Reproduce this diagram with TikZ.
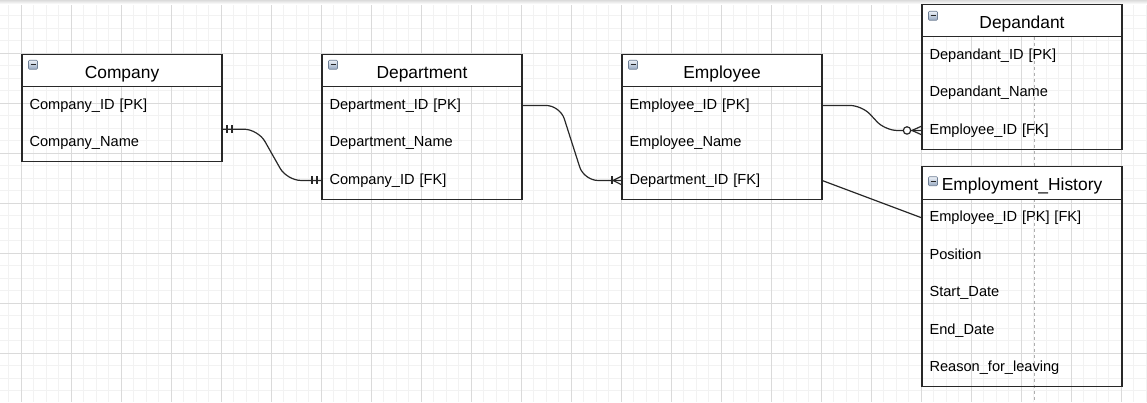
\documentclass[tikz,border=0pt]{standalone}
\usepackage{fontspec}
\setmainfont{Liberation Sans}
\usetikzlibrary{calc}
\definecolor{gridMinor}{RGB}{242,242,242}
\definecolor{gridMajor}{RGB}{218,218,218}
\definecolor{edgeCol}{RGB}{40,40,40}
\definecolor{iconTop}{RGB}{238,242,248}
\definecolor{iconBot}{RGB}{150,168,192}
\definecolor{iconEdge}{RGB}{110,126,148}
\definecolor{breakCol}{RGB}{175,175,175}
\newcommand{\erToggle}[3]{%
  \draw[toggle] ($(#1)+(#2,#3)$) rectangle ++(9,9);
  \draw[minusbar] ($(#1)+(#2+2,#3+4.5)$) -- ++(5,0);}
\begin{document}
\begin{tikzpicture}[x=1pt,y=-1pt,
  gridminor/.style={draw=gridMinor,line width=0.8pt},
  gridmajor/.style={draw=gridMajor,line width=0.8pt},
  outline/.style={draw=edgeCol,line width=1.2pt},
  head/.style={anchor=north west,draw=edgeCol,line width=1.2pt,fill=white,
    minimum width=200pt,minimum height=32.5pt,inner sep=0pt,outer sep=0pt,
    text height=18pt,text depth=2.5pt,font=\fontsize{17.4}{20}\selectfont},
  cell/.style={anchor=north west,minimum width=200pt,minimum height=37.5pt,
    text width=185pt,inner xsep=7.5pt,inner ysep=0pt,outer sep=0pt,align=left,
    text height=10.5pt,text depth=3pt,font=\fontsize{14.6}{17}\selectfont},
  toggle/.style={draw=iconEdge,top color=iconTop,bottom color=iconBot,
    line width=0.6pt,rounded corners=1pt},
  minusbar/.style={draw=black!85,line width=1.3pt},
  link/.style={draw=edgeCol,line width=1.2pt},
  pagebreak/.style={draw=breakCol,line width=0.8pt,dash pattern=on 3pt off 3pt}]
\useasboundingbox (0,0) rectangle (1147,402);
\fill[white] (0,0) rectangle (1147,402);

% background grid
\foreach \i in {0,...,91} \draw[gridminor] ({8.5+12.5*\i},0) -- ({8.5+12.5*\i},402);
\foreach \i in {0,...,31} \draw[gridminor] (0,{3+12.5*\i}) -- (1147,{3+12.5*\i});
\foreach \i in {0,...,22} \draw[gridmajor] ({21+50*\i},0) -- ({21+50*\i},402);
\foreach \i in {0,...,7} \draw[gridmajor] (0,{3+50*\i}) -- (1147,{3+50*\i});
\shade[top color=black!14,bottom color=white] (0,0) rectangle (1147,4);

% page break marker
\draw[pagebreak] (1034,36.7) -- (1034,402);

% Company
\node[head] (coH) at (22,54.2) {Company};
\node[cell] (co1) at (coH.south west) {Company\_ID [PK]};
\node[cell] (co2) at (co1.south west) {Company\_Name};
\draw[outline] (coH.north west) rectangle (co2.south east);
\erToggle{coH.north west}{6.5}{6}

% Department
\node[head] (deH) at (322,54.2) {Department};
\node[cell] (de1) at (deH.south west) {Department\_ID [PK]};
\node[cell] (de2) at (de1.south west) {Department\_Name};
\node[cell] (de3) at (de2.south west) {Company\_ID [FK]};
\draw[outline] (deH.north west) rectangle (de3.south east);
\erToggle{deH.north west}{6.5}{6}

% Employee
\node[head] (emH) at (622,54.2) {Employee};
\node[cell] (em1) at (emH.south west) {Employee\_ID [PK]};
\node[cell] (em2) at (em1.south west) {Employee\_Name};
\node[cell] (em3) at (em2.south west) {Department\_ID [FK]};
\draw[outline] (emH.north west) rectangle (em3.south east);
\erToggle{emH.north west}{6.5}{6}

% Depandant
\node[head] (dpH) at (922,4.2) {Depandant};
\node[cell] (dp1) at (dpH.south west) {Depandant\_ID [PK]};
\node[cell] (dp2) at (dp1.south west) {Depandant\_Name};
\node[cell] (dp3) at (dp2.south west) {Employee\_ID [FK]};
\draw[outline] (dpH.north west) rectangle (dp3.south east);
\erToggle{dpH.north west}{6.5}{7}

% Employment_History
\node[head] (ehH) at (922,166.7) {Employment\_History};
\node[cell] (eh1) at (ehH.south west) {Employee\_ID [PK] [FK]};
\node[cell] (eh2) at (eh1.south west) {Position};
\node[cell] (eh3) at (eh2.south west) {Start\_Date};
\node[cell] (eh4) at (eh3.south west) {End\_Date};
\node[cell] (eh5) at (eh4.south west) {Reason\_for\_leaving};
\draw[outline] (ehH.north west) rectangle (eh5.south east);
\erToggle{ehH.north west}{6.5}{10}

% Company -- Department (one and only one at both ends)
\coordinate (coPort) at ($(co1.east)!0.5!(co2.east)+(0,5)$);
\draw[link,rounded corners=14pt] (coPort) -- ++(36,0) -- ($(de3.west)+(-35,0)$) -- (de3.west);
\draw[link] ($(coPort)+(5,-4)$) -- ++(0,8) ($(coPort)+(10,-4)$) -- ++(0,8);
\draw[link] ($(de3.west)+(-5,-4)$) -- ++(0,8) ($(de3.west)+(-10,-4)$) -- ++(0,8);

% Department -- Employee (one or many)
\draw[link,rounded corners=14pt] (de1.east) -- ++(38,0) -- ($(em3.west)+(-38,0)$) -- (em3.west);
\draw[link] ($(em3.west)+(-10,-4)$) -- ++(0,8);
\draw[link] ($(em3.west)+(0,-4.5)$) -- ($(em3.west)+(-9,0)$) -- ($(em3.west)+(0,4.5)$);

% Employee -- Depandant (zero or many)
\draw[link,rounded corners=12pt] (em1.east) -- ++(40,0) -- ($(dp3.west)+(-37,0)$) -- (dp3.west);
\draw[link,fill=white] ($(dp3.west)+(-15,0)$) circle (3.7pt);
\draw[link] ($(dp3.west)+(0,-4.5)$) -- ($(dp3.west)+(-10,0)$) -- ($(dp3.west)+(0,4.5)$);

% Employee -- Employment_History
\draw[link] (em3.east) -- (eh1.west);
\end{tikzpicture}
\end{document}
